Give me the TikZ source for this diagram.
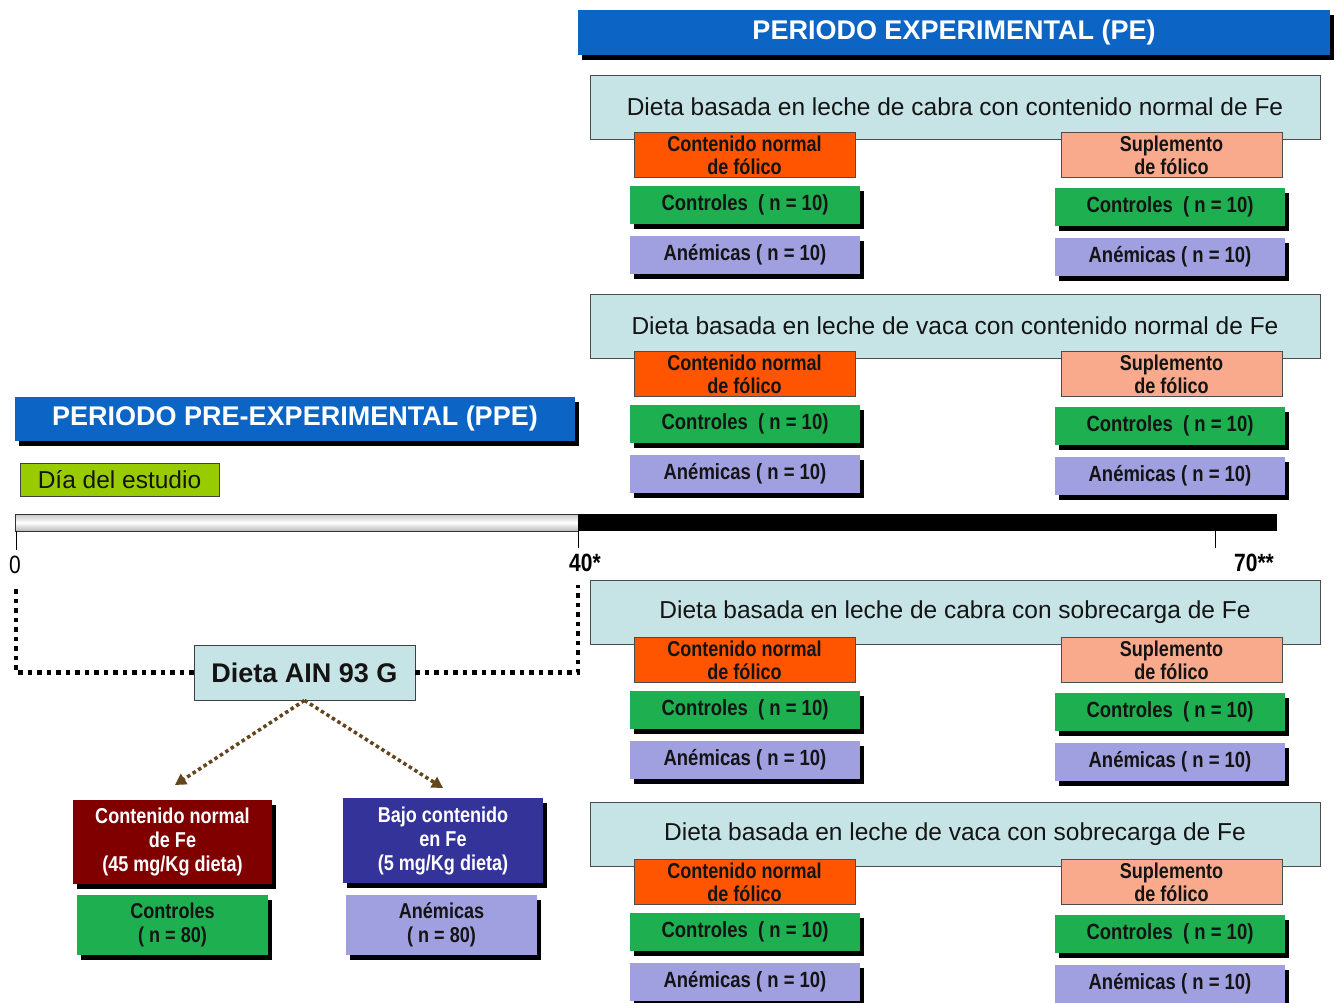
\documentclass[tikz,border=0pt]{standalone}
\usepackage{fontspec}
\setmainfont{Liberation Sans}
\newfontfamily\narrowf[FakeStretch=0.84]{Liberation Sans}
\usetikzlibrary{shadows,arrows.meta}
\definecolor{bluec}{RGB}{12,100,196}
\definecolor{cyanc}{RGB}{198,228,230}
\definecolor{orangec}{RGB}{255,85,0}
\definecolor{salmonc}{RGB}{250,170,140}
\definecolor{greenc}{RGB}{30,176,80}
\definecolor{lavc}{RGB}{160,160,225}
\definecolor{limec}{RGB}{153,204,0}
\definecolor{darkredc}{RGB}{128,0,0}
\definecolor{navyc}{RGB}{51,51,153}
\definecolor{brownc}{RGB}{100,70,30}
\definecolor{textdark}{RGB}{20,20,20}
\tikzset{
  shadowed/.style={general shadow={fill=black, shadow xshift=4pt, shadow yshift=-5pt}},
  titlebar/.style={fill=bluec, shadowed, inner sep=0pt, text=white,
    font=\bfseries\fontsize{27}{30}\selectfont},
  cyanbox/.style={draw=black!70, fill=cyanc, line width=0.8pt, inner sep=0pt,
    minimum width=730pt, minimum height=64pt, text=textdark,
    font=\fontsize{24.5}{27}\selectfont},
  folbox/.style={draw=black!70, line width=0.8pt, inner sep=0pt, minimum width=221pt,
    minimum height=45pt, align=center, text=textdark,
    font=\narrowf\bfseries\fontsize{21.5}{23}\selectfont},
  grpbox/.style={shadowed, inner sep=0pt, minimum width=230pt, minimum height=38pt,
    text=textdark, font=\narrowf\bfseries\fontsize{22}{24}\selectfont},
  lowbox/.style={shadowed, inner sep=0pt, align=center,
    font=\narrowf\bfseries\fontsize{21.5}{24}\selectfont},
  dotline/.style={line width=4.5pt, dash pattern=on 4.5pt off 5pt, black},
  brownarrow/.style={brownc, line width=3.5pt, dash pattern=on 3.5pt off 3pt,
    -{Triangle[length=11pt,width=12pt]}},
  ticklabel/.style={inner sep=0pt, font=\narrowf\fontsize{25}{27}\selectfont}
}
\newcommand\ExpGroup[3]{%
  \node[cyanbox] (#1t) at (955,#2+32) {#3};
  \node[folbox, fill=orangec] (#1fa) at (744.5,#2+80) {Contenido normal\\de fólico};
  \node[folbox, fill=salmonc] (#1fb) at (1171.5,#2+80) {Suplemento\\de fólico};
  \node[grpbox, fill=greenc] (#1ca) at (745,#2+130) {Controles\ \ ( n = 10)};
  \node[grpbox, fill=lavc] (#1aa) at (745,#2+180) {Anémicas\ ( n = 10)};
  \node[grpbox, fill=greenc] (#1cb) at (1170,#2+132) {Controles\ \ ( n = 10)};
  \node[grpbox, fill=lavc] (#1ab) at (1170,#2+182) {Anémicas\ ( n = 10)};
}
\begin{document}
\begin{tikzpicture}[x=1pt,y=-1pt]
\useasboundingbox (0,0) rectangle (1341,1003);
\fill[white] (0,0) rectangle (1341,1003);
% experimental period title
\node[titlebar, minimum width=752pt, minimum height=45pt] (pe) at (954,32.5)
  {PERIODO EXPERIMENTAL (PE)};
\ExpGroup{g1}{75}{Dieta basada en leche de cabra con contenido normal de Fe}
\ExpGroup{g2}{294}{Dieta basada en leche de vaca con contenido normal de Fe}
\ExpGroup{g3}{580}{Dieta basada en leche de cabra con sobrecarga de Fe}
\ExpGroup{g4}{802}{Dieta basada en leche de vaca con sobrecarga de Fe}
% pre-experimental period
\node[titlebar, minimum width=560pt, minimum height=44pt] (ppe) at (295,419)
  {PERIODO PRE-EXPERIMENTAL (PPE)};
\node[draw=black!75, line width=0.8pt, fill=limec, inner sep=0pt, minimum width=199pt,
  minimum height=33pt, text=textdark, font=\fontsize{24.5}{26}\selectfont] (dia)
  at (119.5,479.5) {Día del estudio};
% timeline
\shade[top color=gray!45, bottom color=gray!55, middle color=white] (15,514) rectangle (578,531);
\draw[black!80, line width=1pt] (15,514) rectangle (578,531);
\fill[black] (578,514) rectangle (1277,531);
\draw[line width=1pt] (16,531) -- (16,550);
\draw[line width=1pt] (578,531) -- (578,548);
\draw[line width=1pt] (1215,531) -- (1215,548);
\node[ticklabel] (t0) at (15,565) {0};
\node[ticklabel, font=\narrowf\bfseries\fontsize{25}{27}\selectfont] (t40) at (585,563) {40*};
\node[ticklabel, font=\narrowf\bfseries\fontsize{25}{27}\selectfont] (t70) at (1254,563) {70**};
% diet node and bracket
\node[draw=black!75, line width=0.8pt, fill=cyanc, inner sep=0pt, minimum width=221pt,
  minimum height=55pt, text=textdark, font=\bfseries\fontsize{27}{29}\selectfont] (ain)
  at (304.5,672.5) {Dieta AIN 93 G};
\coordinate (bl) at (16,585);
\coordinate (br) at (578,585);
\draw[dotline] (ain.west) -- (bl |- ain.west) -- (bl);
\draw[dotline] (ain.east) -- (br |- ain.east) -- (br);
% lower boxes
\node[lowbox, fill=darkredc, text=white, minimum width=199pt, minimum height=84pt] (cfe)
  at (172.5,842) {Contenido normal\\de Fe\\(45 mg/Kg dieta)};
\node[lowbox, fill=navyc, text=white, minimum width=200pt, minimum height=85pt] (bfe)
  at (443,840.5) {Bajo contenido\\en Fe\\(5 mg/Kg dieta)};
\node[lowbox, fill=greenc, text=textdark, minimum width=191pt, minimum height=60pt] (c80)
  at (172.5,925) {Controles\\( n = 80)};
\node[lowbox, fill=lavc, text=textdark, minimum width=191pt, minimum height=60pt] (a80)
  at (441.5,925) {Anémicas\\( n = 80)};
\coordinate (a1) at (175,785);
\coordinate (a2) at (443,788);
\draw[brownarrow] (ain.south) -- (a1);
\draw[brownarrow] (ain.south) -- (a2);
\end{tikzpicture}
\end{document}
